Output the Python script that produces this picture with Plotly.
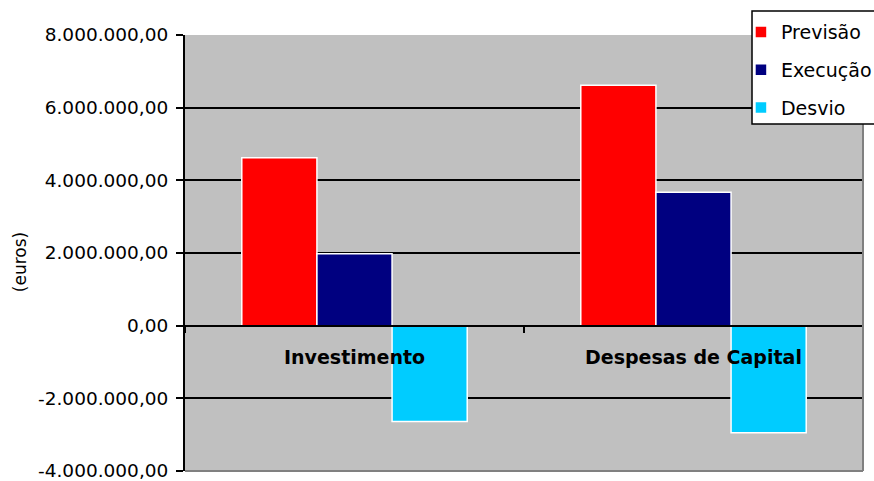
import plotly.graph_objects as go

categories = ["Investimento", "Despesas de Capital"]
previsao = [4620000, 6620000]
execucao = [1980000, 3670000]
desvio = [-2640000, -2950000]
series_names = ["Previsão", "Execução", "Desvio"]
series_colors = ["#FF0000", "#000080", "#00CCFF"]
tick_values = [-4000000, -2000000, 0, 2000000, 4000000, 6000000, 8000000]
tick_labels = ["-4.000.000,00", "-2.000.000,00", "0,00", "2.000.000,00",
               "4.000.000,00", "6.000.000,00", "8.000.000,00"]
y_title = "(euros)"

FONT = "DejaVu Sans, Arial, sans-serif"

fig = go.Figure()
for name, vals, col in zip(series_names, [previsao, execucao, desvio], series_colors):
    fig.add_trace(go.Bar(
        x=categories, y=vals, name=name, legendgroup=name,
        marker=dict(color=col, line=dict(color="white", width=1.5)),
    ))

annotations = []
for c in categories:
    annotations.append(dict(
        x=c, y=0, xref="x", yref="y", text="<b>%s</b>" % c, showarrow=False,
        yanchor="middle", xanchor="center", yshift=-31,
        font=dict(family=FONT, size=19, color="black"),
    ))
annotations.append(dict(
    x=-0.2434, y=0.479, xref="paper", yref="paper", text=y_title, showarrow=False,
    textangle=-90, xanchor="center", yanchor="middle",
    font=dict(family=FONT, size=17, color="black"),
))

lx0, lx1, ly0, ly1 = 0.8363, 1.05, 0.7959, 1.055
shapes = [
    # gray bottom and right borders of plot area
    dict(type="line", xref="paper", yref="paper", x0=0, x1=1, y0=0, y1=0,
         line=dict(color="#808080", width=2)),
    dict(type="line", xref="paper", yref="paper", x0=1, x1=1, y0=0, y1=1,
         line=dict(color="#808080", width=2)),
    # legend box (fill), open on the right where it runs off the page
    dict(type="rect", xref="paper", yref="paper", x0=lx0, x1=lx1, y0=ly0, y1=ly1,
         fillcolor="white", line=dict(width=0), layer="above"),
    dict(type="path", xref="paper", yref="paper",
         path="M %f,%f L %f,%f L %f,%f L %f,%f" % (lx1, ly0, lx0, ly0, lx0, ly1, lx1, ly1),
         line=dict(color="black", width=1.5), layer="above"),
]

fig.update_layout(
    width=874, height=481,
    margin=dict(l=185, r=11, t=35, b=10, autoexpand=False),
    paper_bgcolor="white", plot_bgcolor="#C0C0C0",
    barmode="group", bargap=0.335, bargroupgap=0,
    font=dict(family=FONT, size=18, color="black"),
    showlegend=True,
    legend=dict(x=0.820, y=1.050, xanchor="left", yanchor="top",
                bgcolor="rgba(0,0,0,0)", borderwidth=0, bordercolor="rgba(0,0,0,0)",
                font=dict(family=FONT, size=19, color="black"),
                tracegroupgap=10, traceorder="grouped"),
    annotations=annotations, shapes=shapes,
)
fig.update_xaxes(
    type="category", anchor="free", position=(0 - (-4000000)) / 12000000,
    showline=True, linecolor="black", linewidth=1.5,
    ticks="outside", tickson="boundaries", ticklen=7, tickwidth=2, tickcolor="black",
    showticklabels=False, showgrid=False, zeroline=False,
)
fig.update_yaxes(
    range=[-4000000, 8000000], tickvals=tick_values, ticktext=tick_labels,
    showgrid=True, gridcolor="black", gridwidth=1.5,
    zeroline=True, zerolinecolor="black", zerolinewidth=1.5,
    showline=True, linecolor="black", linewidth=2,
    ticks="outside", ticklen=7, tickwidth=2, tickcolor="black",
    ticklabelstandoff=4, ticklabeloverflow="allow",
    tickfont=dict(family=FONT, size=18.5, color="black"),
)

fig.write_html("out.html")
